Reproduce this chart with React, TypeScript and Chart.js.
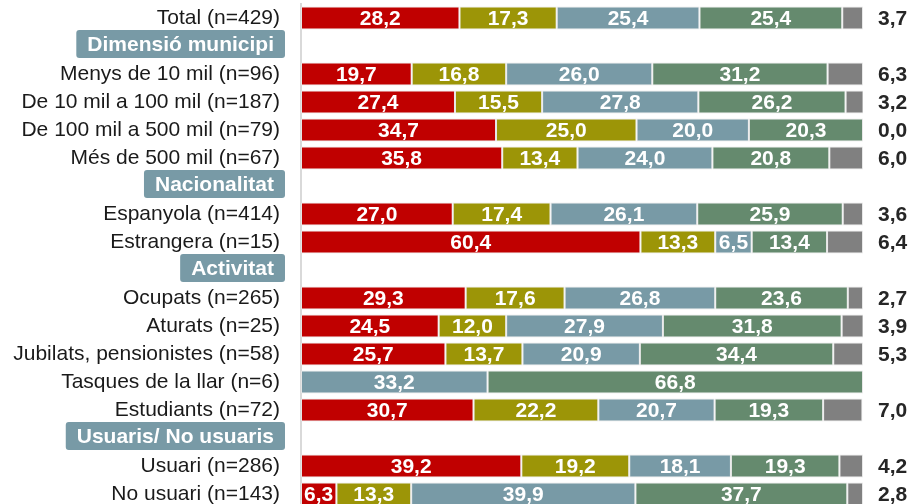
import React, { useEffect, useRef } from "react";
import { Chart, registerables } from "chart.js";

Chart.register(...registerables);

const categories = [
  "Total (n=429)",
  "Dimensió municipi",
  "Menys de 10 mil (n=96)",
  "De 10 mil a 100 mil (n=187)",
  "De 100 mil a 500 mil (n=79)",
  "Més de 500 mil (n=67)",
  "Nacionalitat",
  "Espanyola (n=414)",
  "Estrangera (n=15)",
  "Activitat",
  "Ocupats (n=265)",
  "Aturats (n=25)",
  "Jubilats, pensionistes (n=58)",
  "Tasques de la llar (n=6)",
  "Estudiants (n=72)",
  "Usuaris/ No usuaris",
  "Usuari (n=286)",
  "No usuari (n=143)",
];

const headerRows = ["Dimensió municipi", "Nacionalitat", "Activitat", "Usuaris/ No usuaris"];

const seriesNames = ["S1", "S2", "S3", "S4", "S5"];

const serie1 = [28.2, null, 19.7, 27.4, 34.7, 35.8, null, 27.0, 60.4, null, 29.3, 24.5, 25.7, null, 30.7, null, 39.2, 6.3];
const serie2 = [17.3, null, 16.8, 15.5, 25.0, 13.4, null, 17.4, 13.3, null, 17.6, 12.0, 13.7, null, 22.2, null, 19.2, 13.3];
const serie3 = [25.4, null, 26.0, 27.8, 20.0, 24.0, null, 26.1, 6.5, null, 26.8, 27.9, 20.9, 33.2, 20.7, null, 18.1, 39.9];
const serie4 = [25.4, null, 31.2, 26.2, 20.3, 20.8, null, 25.9, 13.4, null, 23.6, 31.8, 34.4, 66.8, 19.3, null, 19.3, 37.7];
const serie5 = [3.7, null, 6.3, 3.2, 0.0, 6.0, null, 3.6, 6.4, null, 2.7, 3.9, 5.3, null, 7.0, null, 4.2, 2.8];

const colors = ["#C00000", "#9C9507", "#789AA6", "#658A6E", "#808080"];
const headerColor = "#789AA6";
const FONT = "'Liberation Sans', Arial, sans-serif";

const fmt = (v: number) => v.toFixed(1).replace(".", ",");

const labelsPlugin = {
  id: "customLabels",
  afterDraw(chart: any) {
    const ctx = chart.ctx;
    const yScale = chart.scales.y;
    ctx.save();
    ctx.font = `bold 21px ${FONT}`;
    ctx.textBaseline = "middle";
    categories.forEach((c, i) => {
      if (!headerRows.includes(c)) return;
      const y = yScale.getPixelForValue(i);
      const w = ctx.measureText(c).width;
      const textRight = 274;
      const pad = 11;
      const left = textRight - w - pad;
      const right = textRight + pad;
      const h = 28;
      ctx.fillStyle = headerColor;
      ctx.beginPath();
      (ctx as any).roundRect(left, y - h / 2 - 2, right - left, h, 3);
      ctx.fill();
      ctx.fillStyle = "#FFFFFF";
      ctx.textAlign = "right";
      ctx.fillText(c, textRight, y - 1);
    });
    ctx.restore();
  },
  afterDatasetsDraw(chart: any) {
    const ctx = chart.ctx;
    ctx.save();
    ctx.font = `bold 21px ${FONT}`;
    ctx.textBaseline = "middle";
    chart.data.datasets.forEach((ds: any, di: number) => {
      const meta = chart.getDatasetMeta(di);
      meta.data.forEach((el: any, i: number) => {
        const v = ds.data[i];
        if (v === null || v === undefined) return;
        if (di < 4) {
          if (v <= 0) return;
          ctx.fillStyle = "#FFFFFF";
          ctx.textAlign = "center";
          ctx.fillText(fmt(v), (el.x + el.base) / 2, el.y + 1);
        } else {
          ctx.fillStyle = "#262626";
          ctx.textAlign = "left";
          ctx.fillText(fmt(v), chart.chartArea.right + 15, el.y + 1);
        }
      });
    });
    ctx.restore();
  },
};

export default function App() {
  const ref = useRef<HTMLCanvasElement>(null);
  useEffect(() => {
    if (!ref.current) return;
    const all = [serie1, serie2, serie3, serie4, serie5];
    const chart = new Chart(ref.current, {
      type: "bar",
      data: {
        labels: categories,
        datasets: all.map((d, i) => ({
          label: seriesNames[i],
          data: d,
          backgroundColor: colors[i],
          borderColor: "rgba(230,230,230,0.9)",
          borderWidth: 1,
          borderSkipped: false,
          barPercentage: 0.82,
          categoryPercentage: 1,
        })),
      },
      options: {
        indexAxis: "y",
        animation: false,
        responsive: false,
        maintainAspectRatio: false,
        layout: { padding: { left: 0, right: 50, top: 4, bottom: 4 } },
        plugins: {
          legend: { display: false },
          tooltip: { enabled: false },
        },
        scales: {
          x: {
            stacked: true,
            min: 0,
            max: 100,
            display: false,
          },
          y: {
            stacked: true,
            grid: { display: false, drawTicks: false },
            border: { display: true, color: "#D9D9D9", width: 2 },
            afterFit: (scale: any) => {
              scale.width = 301;
              scale.paddingTop = 0;
              scale.paddingBottom = 0;
            },
            ticks: {
              autoSkip: false,
              padding: 21,
              color: "#1A1A1A",
              font: { family: FONT, size: 21, weight: "normal" },
              callback: (_v: any, i: number) =>
                headerRows.includes(categories[i]) ? "" : categories[i],
            },
          },
        },
      } as any,
      plugins: [labelsPlugin],
    });
    return () => chart.destroy();
  }, []);
  return (
    <div style={{ position: "fixed", left: 0, top: 0, width: 913, height: 504, overflow: "hidden", background: "#fff" }}>
      <canvas ref={ref} width={913} height={512} style={{ display: "block", width: 913, height: 512 }} />
    </div>
  );
}
